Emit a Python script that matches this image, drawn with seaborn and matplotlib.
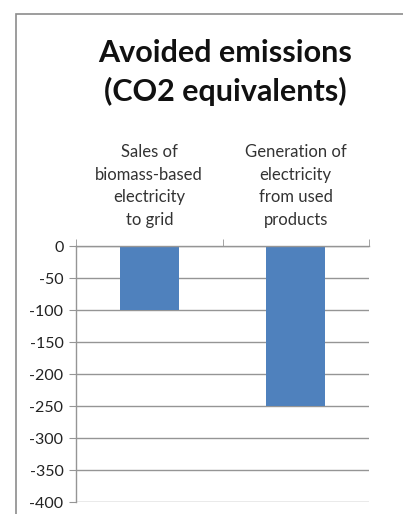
import matplotlib
matplotlib.use("Agg")
import matplotlib.pyplot as plt
import seaborn as sns
import pandas as pd
from matplotlib.patches import Rectangle

categories = ["Sales of\nbiomass-based\nelectricity\nto grid",
              "Generation of\nelectricity\nfrom used\nproducts"]
values = [-100, -250]
y_ticks = [0, -50, -100, -150, -200, -250, -300, -350, -400]

df = pd.DataFrame({"category": categories, "value": values})

sns.set_style("white")
plt.rcParams["font.family"] = ["Lato", "DejaVu Sans"]

fig = plt.figure(figsize=(4.03, 5.14), dpi=100)
fig.patch.set_facecolor("white")

# outer chart frame (Excel style), running off the right and bottom edges
fig.patches.append(Rectangle((16 / 403, -0.05), 1.2, 1 - 14 / 514 + 0.05,
                             transform=fig.transFigure, fill=False,
                             edgecolor="#8c8c8c", linewidth=1.2))

ax = fig.add_axes([76 / 403, 1 - 502 / 514, 293 / 403, 256 / 514])
sns.barplot(data=df, x="category", y="value", color="#4F81BD",
            saturation=1, width=0.4, linewidth=0, ax=ax)

ax.set_ylim(-400, 0)
ax.set_xlim(-0.5, 1.5)
ax.set_yticks(y_ticks)
ax.set_yticklabels([str(v) for v in y_ticks], fontsize=11.5, color="#222222")
ax.yaxis.grid(True, color="#959595", linewidth=1)
ax.set_axisbelow(True)

ax.xaxis.tick_top()
ax.set_xticks([0, 1])
ax.set_xticklabels(categories, fontsize=12, color="#333333", linespacing=1.5)
ax.set_xticks([-0.5, 0.5, 1.5], minor=True)
ax.tick_params(axis="x", which="major", length=0, pad=13)
ax.tick_params(axis="x", which="minor", length=5, color="#959595", top=True, bottom=False)
ax.tick_params(axis="y", length=5, color="#959595", left=True, pad=4)
ax.set_xlabel("")
ax.set_ylabel("")

for side in ["right", "bottom"]:
    ax.spines[side].set_visible(False)
for side in ["left", "top"]:
    ax.spines[side].set_color("#959595")
    ax.spines[side].set_linewidth(1)

fig.text(225 / 403, 1 - 39 / 514, "Avoided emissions\n(CO2 equivalents)",
         ha="center", va="top", fontsize=22, fontweight="bold",
         color="#111111", linespacing=1.4)

fig.savefig("out.png", dpi=100)
